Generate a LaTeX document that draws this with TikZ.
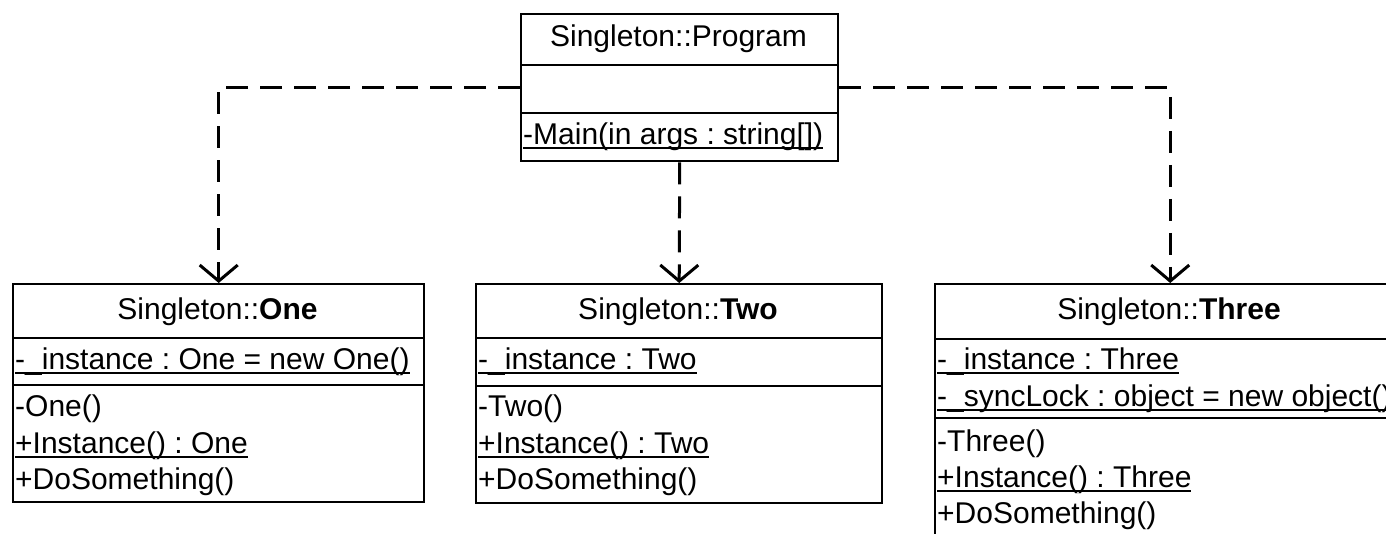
\documentclass[tikz,border=0pt]{standalone}
\usepackage{fontspec}
\setmainfont{Liberation Sans}
\usetikzlibrary{arrows.meta}
\frenchspacing
\newcommand{\stmem}[1]{\setbox0=\hbox{#1}\rlap{\rule[-5pt]{\wd0}{1.8pt}}\box0}
\begin{document}
\begin{tikzpicture}[x=1pt,y=-1pt,every node/.style={font=\fontsize{30}{36}\selectfont,inner sep=0pt},
  cls/.style={draw,line width=2.4pt,anchor=north west},
  row/.style={anchor=base west},
  dep/.style={line width=3pt,dash pattern=on 22pt off 12pt,-{Straight Barb[length=16pt,width=38pt]}}]
\clip (0,0) rectangle (1386,533);
\fill[white] (0,0) rectangle (1386,533);
\node[cls,minimum width=317pt,minimum height=147pt] (program) at (520,13) {};
\node[cls,minimum width=411pt,minimum height=218pt] (one) at (12,283) {};
\node[cls,minimum width=406pt,minimum height=219pt] (two) at (475,283) {};
\node[cls,minimum width=470pt,minimum height=252pt] (three) at (934,283) {};
\foreach \b/\y in {program/65,program/113,one/338,one/385,two/338,two/386,three/339,three/418}
  \draw[line width=2.4pt] (\b.west |- 0,\y) -- (\b.east |- 0,\y);
\node[anchor=base] (program-t) at (678.5,46) {Singleton::Program};
\node[row] (program-m1) at (523,144) {\stmem{-Main(in args : string[])}};
\node[anchor=base] (one-t) at (217.5,319) {Singleton::\textbf{One}};
\node[row] (one-a1) at (15,369) {\stmem{-\_instance : One = new One()}};
\node[row] (one-m1) at (15,416) {-One()};
\node[row] (one-m2) at (15,453) {\stmem{+Instance() : One}};
\node[row] (one-m3) at (15,489) {+DoSomething()};
\node[anchor=base] (two-t) at (678,319) {Singleton::\textbf{Two}};
\node[row] (two-a1) at (478,369) {\stmem{-\_instance : Two}};
\node[row] (two-m1) at (478,416) {-Two()};
\node[row] (two-m2) at (478,453) {\stmem{+Instance() : Two}};
\node[row] (two-m3) at (478,489) {+DoSomething()};
\node[anchor=base] (three-t) at (1169,319) {Singleton::\textbf{Three}};
\node[row] (three-a1) at (937,369) {\stmem{-\_instance : Three}};
\node[row] (three-a2) at (937,406) {\stmem{-\_syncLock : object = new object()}};
\node[row] (three-m1) at (937,451) {-Three()};
\node[row] (three-m2) at (937,487) {\stmem{+Instance() : Three}};
\node[row] (three-m3) at (937,523) {+DoSomething()};
\draw[dep] (program.west) -| (one.north);
\draw[dep] (program.south) -- (two.north);
\draw[dep] (program.east) -| (three.north);
\end{tikzpicture}
\end{document}
